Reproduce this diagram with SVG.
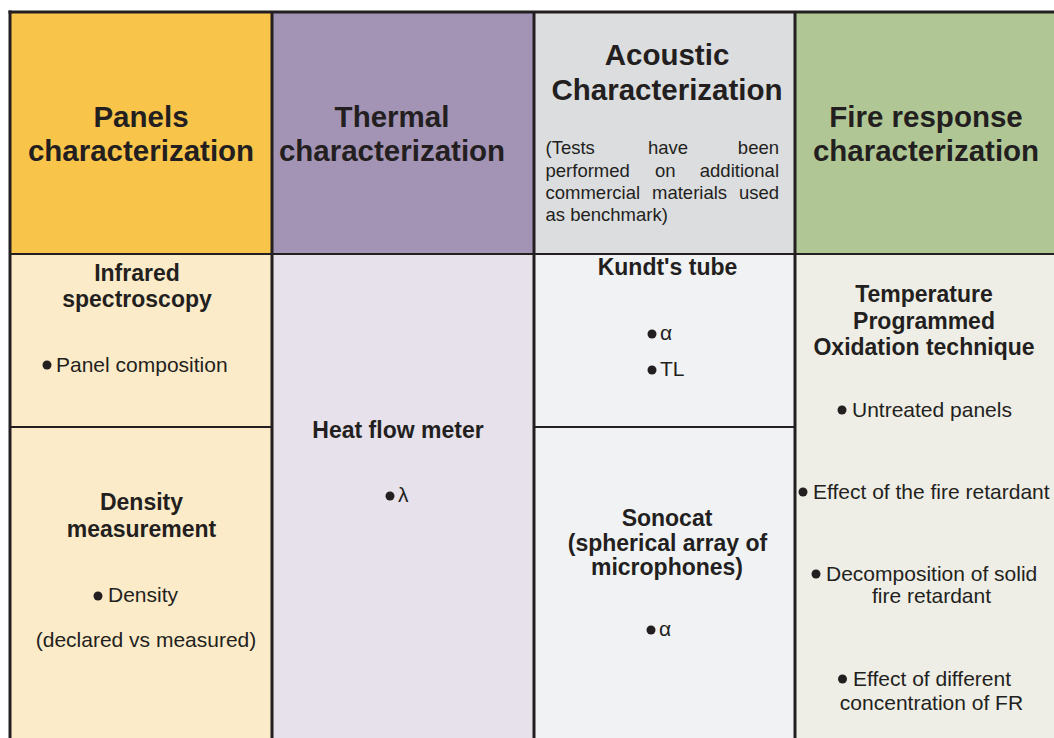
<svg xmlns="http://www.w3.org/2000/svg" width="1054" height="738" viewBox="0 0 1054 738">
<style>
text{font-family:"Liberation Sans",Arial,sans-serif;fill:#231f20}
.t{font-size:29.5px;font-weight:bold;text-anchor:middle}
.h{font-size:23px;font-weight:bold;text-anchor:middle}
.b{font-size:21px}
.c{font-size:21px;text-anchor:middle}
.p{font-size:18.5px}
.e{text-anchor:end}
.dot{fill:#231f20}
.ln{stroke:#231f20;fill:none}
</style>
<rect width="1054" height="738" fill="#ffffff"/>
<g id="panels-header">
<rect x="10" y="12" width="262" height="242" fill="#f9c44a"/>
<text class="t" x="141" y="127">Panels</text>
<text class="t" x="141" y="161">characterization</text>
</g>
<g id="thermal-header">
<rect x="272" y="12" width="262" height="242" fill="#a394b5"/>
<text class="t" x="392" y="127">Thermal</text>
<text class="t" x="392" y="161">characterization</text>
</g>
<g id="acoustic-header">
<rect x="534" y="12" width="261" height="242" fill="#dcdddf"/>
<text class="t" x="667" y="65">Acoustic</text>
<text class="t" x="667" y="100">Characterization</text>
<text class="p" x="545.5" y="154">(Tests</text>
<text class="p" x="648" y="154">have</text>
<text class="p e" x="779" y="154">been</text>
<text class="p" x="545.5" y="176.5">performed</text>
<text class="p" x="655" y="176.5">on</text>
<text class="p e" x="779" y="176.5">additional</text>
<text class="p" x="545.5" y="198.5">commercial</text>
<text class="p" x="652" y="198.5">materials</text>
<text class="p e" x="779" y="198.5">used</text>
<text class="p" x="545.5" y="220.5">as benchmark)</text>
</g>
<g id="fire-header">
<rect x="795" y="12" width="259" height="242" fill="#b0c795"/>
<text class="t" x="926" y="127">Fire response</text>
<text class="t" x="926" y="161">characterization</text>
</g>
<g id="infrared-spectroscopy">
<rect x="10" y="254" width="262" height="173" fill="#fcebc9"/>
<text class="h" x="137" y="281">Infrared</text>
<text class="h" x="137" y="307">spectroscopy</text>
<circle class="dot" cx="47" cy="365" r="4.5"/>
<text class="b" x="56" y="372">Panel composition</text>
</g>
<g id="density-measurement">
<rect x="10" y="427" width="262" height="311" fill="#fcebc9"/>
<text class="h" x="141.5" y="510">Density</text>
<text class="h" x="141.5" y="537">measurement</text>
<circle class="dot" cx="98" cy="596" r="4.5"/>
<text class="b" x="108" y="602">Density</text>
<text class="c" x="146" y="647">(declared vs measured)</text>
</g>
<g id="heat-flow-meter">
<rect x="272" y="254" width="262" height="484" fill="#e6e1ea"/>
<text class="h" x="398" y="438">Heat flow meter</text>
<circle class="dot" cx="390" cy="496" r="4.5"/>
<text class="b" x="398" y="502">λ</text>
</g>
<g id="kundts-tube">
<rect x="534" y="254" width="261" height="173" fill="#f1f2f4"/>
<text class="h" x="667.5" y="275">Kundt's tube</text>
<circle class="dot" cx="652" cy="334" r="4.5"/>
<text class="b" x="660" y="339.5">α</text>
<circle class="dot" cx="652" cy="370" r="4.5"/>
<text class="b" x="660" y="376">TL</text>
</g>
<g id="sonocat">
<rect x="534" y="427" width="261" height="311" fill="#f1f2f4"/>
<text class="h" x="667" y="526">Sonocat</text>
<text class="h" x="667.5" y="551">(spherical array of</text>
<text class="h" x="667" y="575">microphones)</text>
<circle class="dot" cx="651" cy="630" r="4.5"/>
<text class="b" x="659" y="635.5">α</text>
</g>
<g id="tpo-technique">
<rect x="795" y="254" width="259" height="484" fill="#eeeee6"/>
<text class="h" x="924" y="302">Temperature</text>
<text class="h" x="924" y="328.5">Programmed</text>
<text class="h" x="924" y="355">Oxidation technique</text>
<circle class="dot" cx="842" cy="410" r="4.5"/>
<text class="b" x="852" y="416.5">Untreated panels</text>
<circle class="dot" cx="803" cy="492" r="4.5"/>
<text class="b" x="813" y="498.5">Effect of the fire retardant</text>
<circle class="dot" cx="816" cy="574" r="4.5"/>
<text class="b" x="826" y="580.5">Decomposition of solid</text>
<text class="c" x="931.5" y="603">fire retardant</text>
<circle class="dot" cx="842.5" cy="679" r="4.5"/>
<text class="b" x="853" y="685.5">Effect of different</text>
<text class="c" x="931.5" y="709.5">concentration of FR</text>
</g>
<g id="grid-lines" class="ln">
<line x1="8.5" y1="12" x2="1054" y2="12" stroke-width="3"/>
<line x1="10" y1="10.5" x2="10" y2="738" stroke-width="3"/>
<line x1="272" y1="12" x2="272" y2="738" stroke-width="3"/>
<line x1="534" y1="12" x2="534" y2="738" stroke-width="3"/>
<line x1="795" y1="12" x2="795" y2="738" stroke-width="3"/>
<line x1="10" y1="254" x2="1054" y2="254" stroke-width="2"/>
<line x1="10" y1="427" x2="272" y2="427" stroke-width="2"/>
<line x1="534" y1="427" x2="795" y2="427" stroke-width="2"/>
</g>
</svg>
